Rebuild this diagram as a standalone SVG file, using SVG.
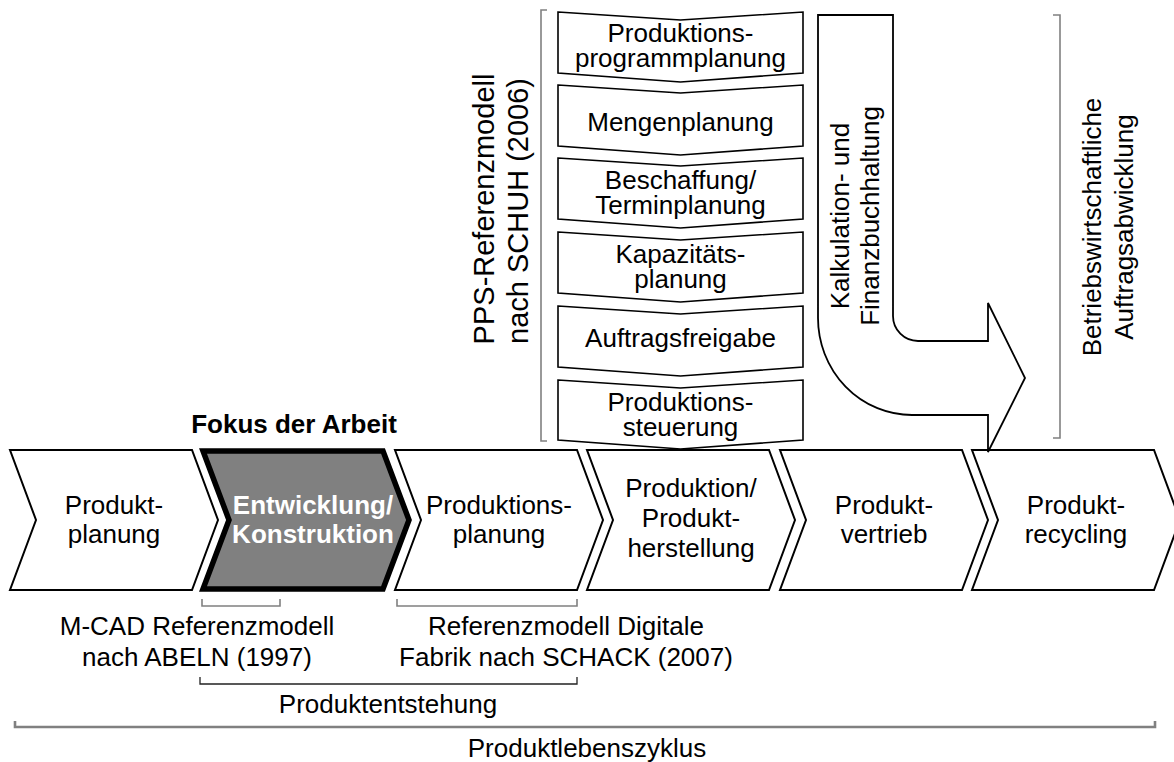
<svg xmlns="http://www.w3.org/2000/svg" width="1174" height="762" viewBox="0 0 1174 762">
<style>
text{font-family:"Liberation Sans",Arial,sans-serif;font-size:26px;fill:#000;text-anchor:middle}
.b{font-weight:bold}
.w{fill:#fff}
.big{font-size:29px}
.chev{fill:#fff;stroke:#000;stroke-width:2;stroke-linejoin:miter}
.focus{fill:#808080;stroke:#000;stroke-width:5.5;stroke-linejoin:miter}
.box{fill:#fff;stroke:#000;stroke-width:1.6;stroke-linejoin:miter}
.arrow{fill:#fff;stroke:#000;stroke-width:1.8;stroke-linejoin:miter}
.br{fill:none;stroke:#808080;stroke-width:1.6}
.brd{fill:none;stroke:#222;stroke-width:1.3}
.brl{fill:none;stroke:#808080;stroke-width:2.6}
</style>
<rect width="1174" height="762" fill="#fff"/>

<!-- PPS stack -->
<g id="pps1"><path class="box" d="M558,12 L680.5,20 L803,12 L803,73 L680.5,82 L558,73 Z"/><text x="680.5" y="42">Produktions-</text><text x="680.5" y="67">programmplanung</text></g>
<g id="pps2"><path class="box" d="M558,85 L680.5,93 L803,85 L803,146 L680.5,155 L558,146 Z"/><text x="680.5" y="131">Mengenplanung</text></g>
<g id="pps3"><path class="box" d="M558,158 L680.5,166 L803,158 L803,219 L680.5,228 L558,219 Z"/><text x="680.5" y="189">Beschaffung/</text><text x="680.5" y="214">Terminplanung</text></g>
<g id="pps4"><path class="box" d="M558,232 L680.5,240 L803,232 L803,293 L680.5,302 L558,293 Z"/><text x="680.5" y="263">Kapazitäts-</text><text x="680.5" y="288">planung</text></g>
<g id="pps5"><path class="box" d="M558,306 L680.5,314 L803,306 L803,367 L680.5,376 L558,367 Z"/><text x="680.5" y="347">Auftragsfreigabe</text></g>
<g id="pps6"><path class="box" d="M558,380 L680.5,388 L803,380 L803,440 L680.5,449 L558,440 Z"/><text x="680.5" y="411">Produktions-</text><text x="680.5" y="436">steuerung</text></g>

<g id="pps-label">
<text class="big" transform="translate(494,209) rotate(-90)">PPS-Referenzmodell</text>
<text class="big" transform="translate(528,211) rotate(-90)">nach SCHUH (2006)</text>
</g>

<!-- Chevrons -->
<g id="produktplanung"><path class="chev" d="M10,450 H192 L218,520 L192,590 H10 L36,520 Z"/><text x="114" y="514">Produkt-</text><text x="114" y="543">planung</text></g>
<g id="entwicklung"><path class="focus" d="M203,451 H383 L409,520 L383,589 H203 L229,520 Z"/><text class="b w" x="313" y="514">Entwicklung/</text><text class="b w" x="313" y="543">Konstruktion</text></g>
<g id="produktionsplanung"><path class="chev" d="M395,450 H577 L603,520 L577,590 H395 L421,520 Z"/><text x="499" y="514">Produktions-</text><text x="499" y="543">planung</text></g>
<g id="produktion"><path class="chev" d="M587,450 H769 L795,520 L769,590 H587 L613,520 Z"/><text x="691" y="497">Produktion/</text><text x="691" y="527">Produkt-</text><text x="691" y="557">herstellung</text></g>
<g id="produktvertrieb"><path class="chev" d="M780,450 H962 L988,520 L962,590 H780 L806,520 Z"/><text x="884" y="514">Produkt-</text><text x="884" y="543">vertrieb</text></g>
<g id="produktrecycling"><path class="chev" d="M972,450 H1154 L1180,520 L1154,590 H972 L998,520 Z"/><text x="1076" y="514">Produkt-</text><text x="1076" y="543">recycling</text></g>

<!-- Kalkulation arrow -->
<g id="kalkulation">
<path class="arrow" d="M818,15 H893 V316 A25,25 0 0 0 918,341 H988 V303 L1025,378 L988,452 V415 H912 A94,97 0 0 1 818,318 Z"/>
<text transform="translate(849,216) rotate(-90)">Kalkulation- und</text>
<text transform="translate(879,216) rotate(-90)">Finanzbuchhaltung</text>
</g>
<g id="auftragsabwicklung-label"><text transform="translate(1101,227) rotate(-90)">Betriebswirtschaftliche</text><text transform="translate(1133,227) rotate(-90)">Auftragsabwicklung</text></g>

<g id="fokus-label"><text class="b" x="294" y="433">Fokus der Arbeit</text></g>

<!-- Brackets -->
<g id="brackets">
<path class="br" d="M547,10 H541 V441 H547"/>
<path class="br" d="M1053,15 H1060 V438 H1053"/>
<path class="br" d="M202,599 V606 H280 V599"/>
<path class="br" d="M397,599 V606 H577 V599"/>
<path class="brd" d="M200,677 V684 H577 V677"/>
<path class="brl" d="M15,721 V727 H1155 V721"/>
</g>

<g id="bottom-labels">
<text x="197" y="635">M-CAD Referenzmodell</text>
<text x="197" y="666">nach ABELN (1997)</text>
<text x="566" y="635">Referenzmodell Digitale</text>
<text x="566" y="666">Fabrik nach SCHACK (2007)</text>
<text x="388" y="713">Produktentstehung</text>
<text x="587" y="757">Produktlebenszyklus</text>
</g>
</svg>
